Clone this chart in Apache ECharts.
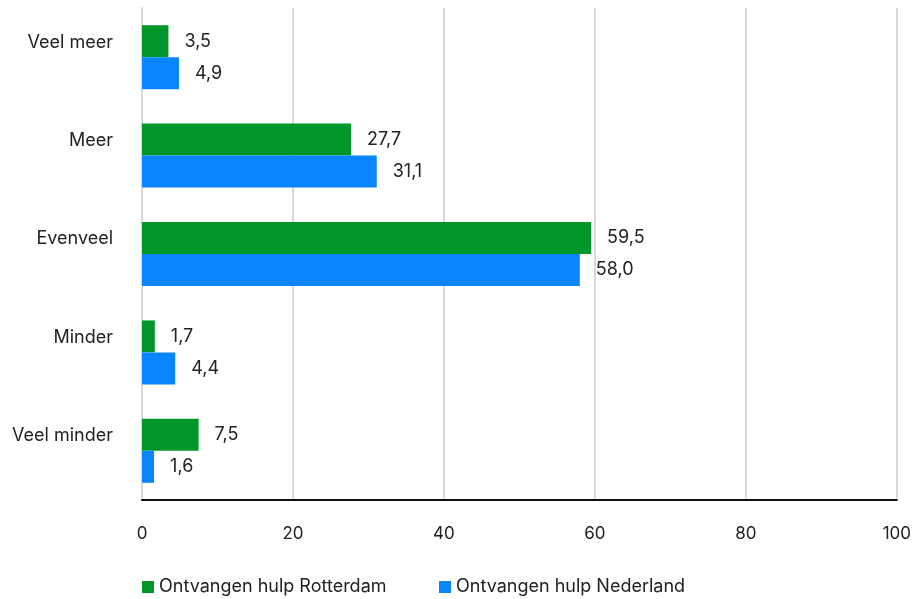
<!DOCTYPE html>
<html>
<head>
<meta charset="utf-8">
<script src="https://cdn.jsdelivr.net/npm/echarts@6/dist/echarts.min.js"></script>
<style>
  html, body { margin: 0; padding: 0; background: #fff; }
  #chart { width: 914px; height: 599px; }
</style>
</head>
<body>
<div id="chart"></div>
<script>
const categories = ["Veel meer", "Meer", "Evenveel", "Minder", "Veel minder"];
const rotterdam = [3.5, 27.7, 59.5, 1.7, 7.5];
const nederland = [4.9, 31.1, 58.0, 4.4, 1.6];
const seriesNames = ["Ontvangen hulp Rotterdam", "Ontvangen hulp Nederland"];

const font = "Inter, 'Noto Sans', sans-serif";
const fmt = (p) => p.value.toFixed(1).replace(".", ",");

const chart = echarts.init(document.getElementById("chart"));
chart.setOption({
  animation: false,
  textStyle: { fontFamily: font },
  grid: { left: 142, right: 13, top: 8, bottom: 99, containLabel: false },
  legend: [
    {
      data: [seriesNames[0]],
      left: 137, top: 573,
      itemWidth: 12, itemHeight: 12, icon: "rect",
      textStyle: { fontSize: 18, color: "#222", fontFamily: font }
    },
    {
      data: [seriesNames[1]],
      left: 434, top: 573,
      itemWidth: 12, itemHeight: 12, icon: "rect",
      textStyle: { fontSize: 18, color: "#222", fontFamily: font }
    }
  ],
  xAxis: {
    type: "value",
    min: 0, max: 100, interval: 20,
    axisLine: { show: true, lineStyle: { color: "#111", width: 2 } },
    axisTick: { show: false },
    axisLabel: { fontSize: 17, color: "#222", margin: 25, fontFamily: font },
    splitLine: { show: true, lineStyle: { color: "#d9d9d9", width: 2 } }
  },
  yAxis: {
    type: "category",
    data: categories,
    inverse: true,
    axisLine: { show: true, lineStyle: { color: "#d9d9d9", width: 2 } },
    axisTick: { show: false },
    axisLabel: {
      fontSize: 18, color: "#222", margin: 29, fontFamily: font,
      verticalAlign: "bottom", lineHeight: 30
    }
  },
  series: [
    {
      name: seriesNames[0],
      type: "bar",
      data: rotterdam,
      itemStyle: { color: "#00962a" },
      barGap: "0%",
      barCategoryGap: "35%",
      label: { show: true, position: "right", distance: 16, formatter: fmt, fontSize: 18, color: "#222", fontFamily: font }
    },
    {
      name: seriesNames[1],
      type: "bar",
      data: nederland,
      itemStyle: { color: "#0a84ff" },
      barGap: "0%",
      barCategoryGap: "35%",
      label: { show: true, position: "right", distance: 16, formatter: fmt, fontSize: 18, color: "#222", fontFamily: font }
    }
  ]
});
</script>
</body>
</html>
